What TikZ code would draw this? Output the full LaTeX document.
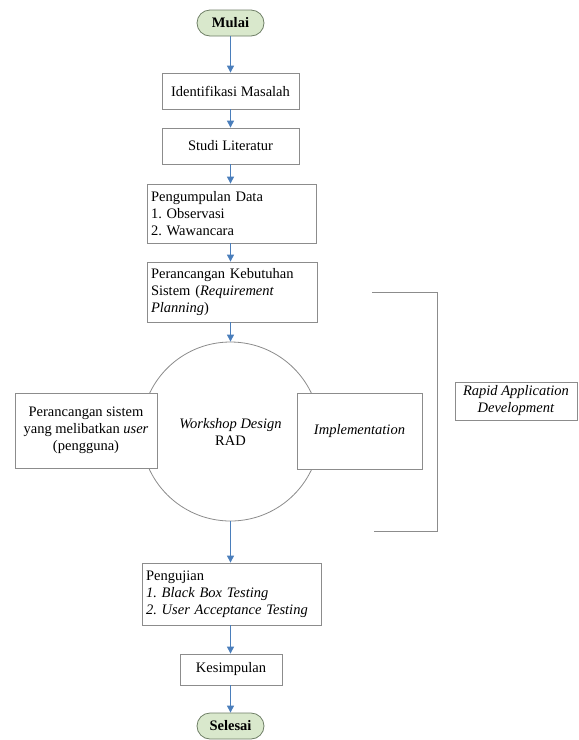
\documentclass[tikz,border=0pt]{standalone}
\usepackage{fontspec}
\setmainfont{Liberation Serif}
\frenchspacing
\usetikzlibrary{arrows.meta,shapes.geometric}
\definecolor{boxgray}{HTML}{8C8C8C}
\definecolor{arrowblue}{HTML}{4A7EBB}
\definecolor{pillgreen}{HTML}{D9E8CC}
\definecolor{pilledge}{HTML}{6F7F66}
\tikzset{
  txt/.style={font=\fontsize{14.5pt}{17pt}\selectfont},
  box/.style={txt, draw=boxgray, line width=0.8pt, fill=white, inner sep=0pt, inner xsep=4pt, align=center},
  lbox/.style={box, align=left},
  pill/.style={txt, draw=pilledge, line width=0.8pt, fill=pillgreen, rounded corners=13pt, inner sep=0pt, font=\fontsize{14.5pt}{17pt}\selectfont\bfseries},
  flow/.style={draw=arrowblue, line width=1pt, -{Triangle[width=7pt,length=7pt]}},
  bracket/.style={draw=boxgray, line width=0.8pt}
}
\begin{document}
\begin{tikzpicture}[x=1pt,y=-1pt]
\useasboundingbox (0,0) rectangle (579,740);
\fill[white] (0,0) rectangle (579,740);

% circle (RAD)
\node[circle, draw=boxgray, line width=0.8pt, minimum size=179pt, inner sep=0pt, txt, align=center] (rad) at (230.5,431.5) {\textit{Workshop Design}\\RAD};

\node[pill, minimum width=67pt, minimum height=26pt] (mulai) at (230.5,23) {Mulai};
\node[box, minimum width=137pt, minimum height=36pt] (idm) at (230.5,91) {Identifikasi Masalah};
\node[box, minimum width=137pt, minimum height=36pt] (studi) at (230.5,146) {Studi Literatur};
\node[lbox, minimum width=169pt, minimum height=59pt, text width=161pt] (pd) at (231.5,213.5) {Pengumpulan Data\\1. Observasi\\2. Wawancara};
\node[lbox, minimum width=170pt, minimum height=60pt, text width=162pt] (rp) at (232,292) {Perancangan Kebutuhan\\Sistem (\textit{Requirement}\\\textit{Planning})};

\node[box, minimum width=142pt, minimum height=75pt] (user) at (86,430.5) {Perancangan sistem\\yang melibatkan \textit{user}\\(pengguna)};
\node[box, minimum width=125pt, minimum height=76pt] (impl) at (359.5,431) {\textit{Implementation}};
\node[box, minimum width=122pt, minimum height=38pt] (rapidbox) at (516,401) {\textit{Rapid Application}\\\textit{Development}};

\node[lbox, minimum width=179pt, minimum height=62pt, text width=171pt] (uji) at (231.5,594) {Pengujian\\\textit{1. Black Box Testing}\\\textit{2. User Acceptance Testing}};
\node[box, minimum width=102pt, minimum height=31pt] (kes) at (231,669.5) {Kesimpulan};
\node[pill, minimum width=67pt, minimum height=26pt] (selesai) at (230.5,726) {Selesai};

% bracket
\coordinate (bt1) at (372,292);
\coordinate (bt2) at (437,292);
\coordinate (bb2) at (437,531);
\coordinate (bb1) at (374,531);
\draw[bracket] (bt1) -- (bt2) -- (bb2) -- (bb1);

% arrows
\draw[flow] (mulai.south) -- (mulai.south |- idm.north);
\draw[flow] (idm.south) -- (idm.south |- studi.north);
\draw[flow] (studi.south) -- (studi.south |- pd.north);
\draw[flow] (pd.south -| studi.south) -- (studi.south |- rp.north);
\draw[flow] (rp.south -| studi.south) -- (studi.south |- rad.north);
\draw[flow] (rad.south) -- (rad.south |- uji.north);
\draw[flow] (uji.south -| rad.south) -- (rad.south |- kes.north);
\draw[flow] (kes.south -| rad.south) -- (rad.south |- selesai.north);
\end{tikzpicture}
\end{document}
